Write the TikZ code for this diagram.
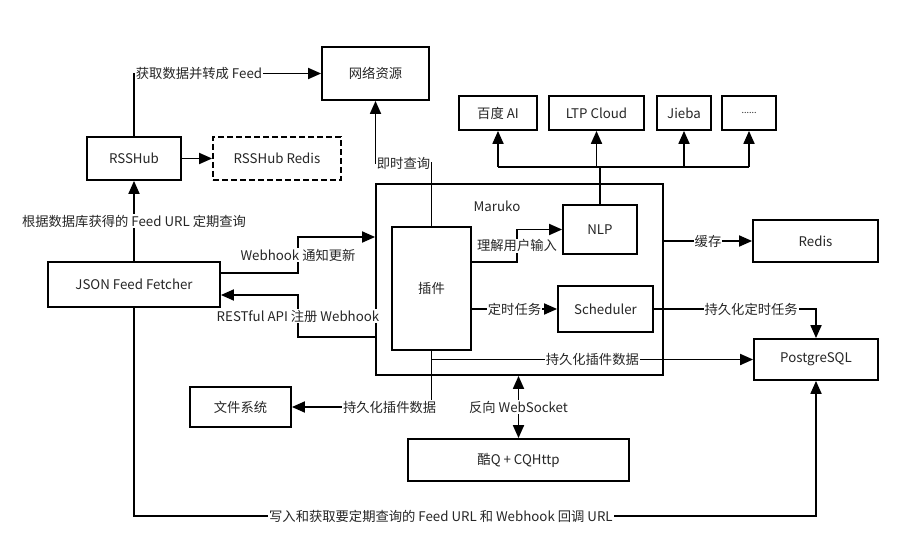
\documentclass[tikz,border=0pt]{standalone}
\usepackage{fontspec}
\setmainfont{Noto Sans CJK SC}
\usetikzlibrary{arrows.meta}
\begin{document}
\begin{tikzpicture}[x=1pt,y=-1pt,font=\fontsize{13.3}{16}\selectfont,
  box/.style={draw,line width=1.8pt,inner sep=0pt,text=black!85},
  lbl/.style={fill=white,inner sep=1pt,text=black!85},
  wire/.style={line width=1.8pt},
  arr/.style={wire,-{Triangle[length=13pt,width=11pt]}},
  both/.style={wire,{Triangle[length=13pt,width=11pt]}-{Triangle[length=13pt,width=11pt]}}]
\useasboundingbox[fill=white] (0,0) rectangle (909,548);

\node[box,minimum width=107,minimum height=53] (net) at (375.5,73.5) {网络资源};
\node[box,minimum width=94,minimum height=43] (rsshub) at (134,158.5) {RSSHub};
\node[box,dash pattern=on 6pt off 3pt,minimum width=128,minimum height=43] (rredis) at (277,158.5) {RSSHub Redis};
\node[box,minimum width=172,minimum height=45] (jff) at (134,284.5) {JSON Feed Fetcher};
\node[box,minimum width=287,minimum height=191] (maruko) at (519.5,279.5) {};
\node[text=black!85] (marukoname) at (497,206) {Maruko};
\node[box,minimum width=79,minimum height=123] (plugin) at (431.5,288.5) {插件};
\node[box,minimum width=74,minimum height=49] (nlp) at (600,229.5) {NLP};
\node[box,minimum width=95,minimum height=46] (sched) at (605.5,309) {Scheduler};
\node[box,minimum width=78,minimum height=34] (baidu) at (498,113) {百度 AI};
\node[box,minimum width=95,minimum height=34] (ltp) at (596.5,113) {LTP Cloud};
\node[box,minimum width=54,minimum height=34] (jieba) at (684,113) {Jieba};
\node[box,minimum width=54,minimum height=34] (more) at (749,113) {\fontsize{9}{10}\selectfont ......};
\node[box,minimum width=125,minimum height=42] (redis) at (815.5,241) {Redis};
\node[box,minimum width=124,minimum height=41] (pg) at (816,359.5) {PostgreSQL};
\node[box,minimum width=101,minimum height=40] (fs) at (240.5,407) {文件系统};
\node[box,minimum width=221,minimum height=42] (cq) at (518.5,460) {酷Q + CQHttp};

\draw[arr] (rsshub.north) |- node[lbl,pos=0.5,anchor=west]{获取数据并转成 Feed} (net.west);
\draw[arr] (rsshub.east) -- (rredis.west);
\draw[arr] (plugin.north) |- node[lbl,pos=0.75]{即时查询} (net.south |- 0,163) -- (net.south);

\coordinate (bus) at (600,167);
\draw[wire] (nlp.north) -- (bus);
\draw[wire] (baidu.south |- bus) -- (more.south |- bus);
\foreach \n in {baidu,ltp,jieba,more}
  \draw[arr] (\n.south |- bus) -- (\n.south);

\draw[arr] (plugin.east |- 0,262) -- (517,262) |- node[lbl,pos=0.25]{理解用户输入} (nlp.west);
\draw[arr] (plugin.east |- sched.west) -- node[lbl]{定时任务} (sched.west);
\draw[arr] (maruko.east |- redis.west) -- node[lbl]{缓存} (redis.west);
\draw[arr] (sched.east) -| node[lbl,pos=0.3]{持久化定时任务} (pg.north);
\draw[arr] (plugin.south |- pg.west) -- node[lbl]{持久化插件数据} (pg.west);
\draw[arr] (plugin.south) |- node[lbl,pos=0.65]{持久化插件数据} (fs.east);
\draw[both] (cq.north |- maruko.south) -- node[lbl]{反向 WebSocket} (cq.north);

\draw[arr] (jff.north) -- node[lbl]{根据数据库获得的 Feed URL 定期查询} (rsshub.south);
\draw[arr] (jff.east |- 0,273) -- (298,273) |- node[lbl,pos=0.25]{Webhook 通知更新} (maruko.west |- 0,237);
\draw[arr] (maruko.west |- 0,337) -- (298,337) |- node[lbl,pos=0.25]{RESTful API 注册 Webhook} (jff.east |- 0,295);
\draw[arr] (jff.south) -- (jff.south |- 0,516) -| node[lbl,pos=0.225]{写入和获取要定期查询的 Feed URL 和 Webhook 回调 URL} (pg.south);
\end{tikzpicture}
\end{document}
